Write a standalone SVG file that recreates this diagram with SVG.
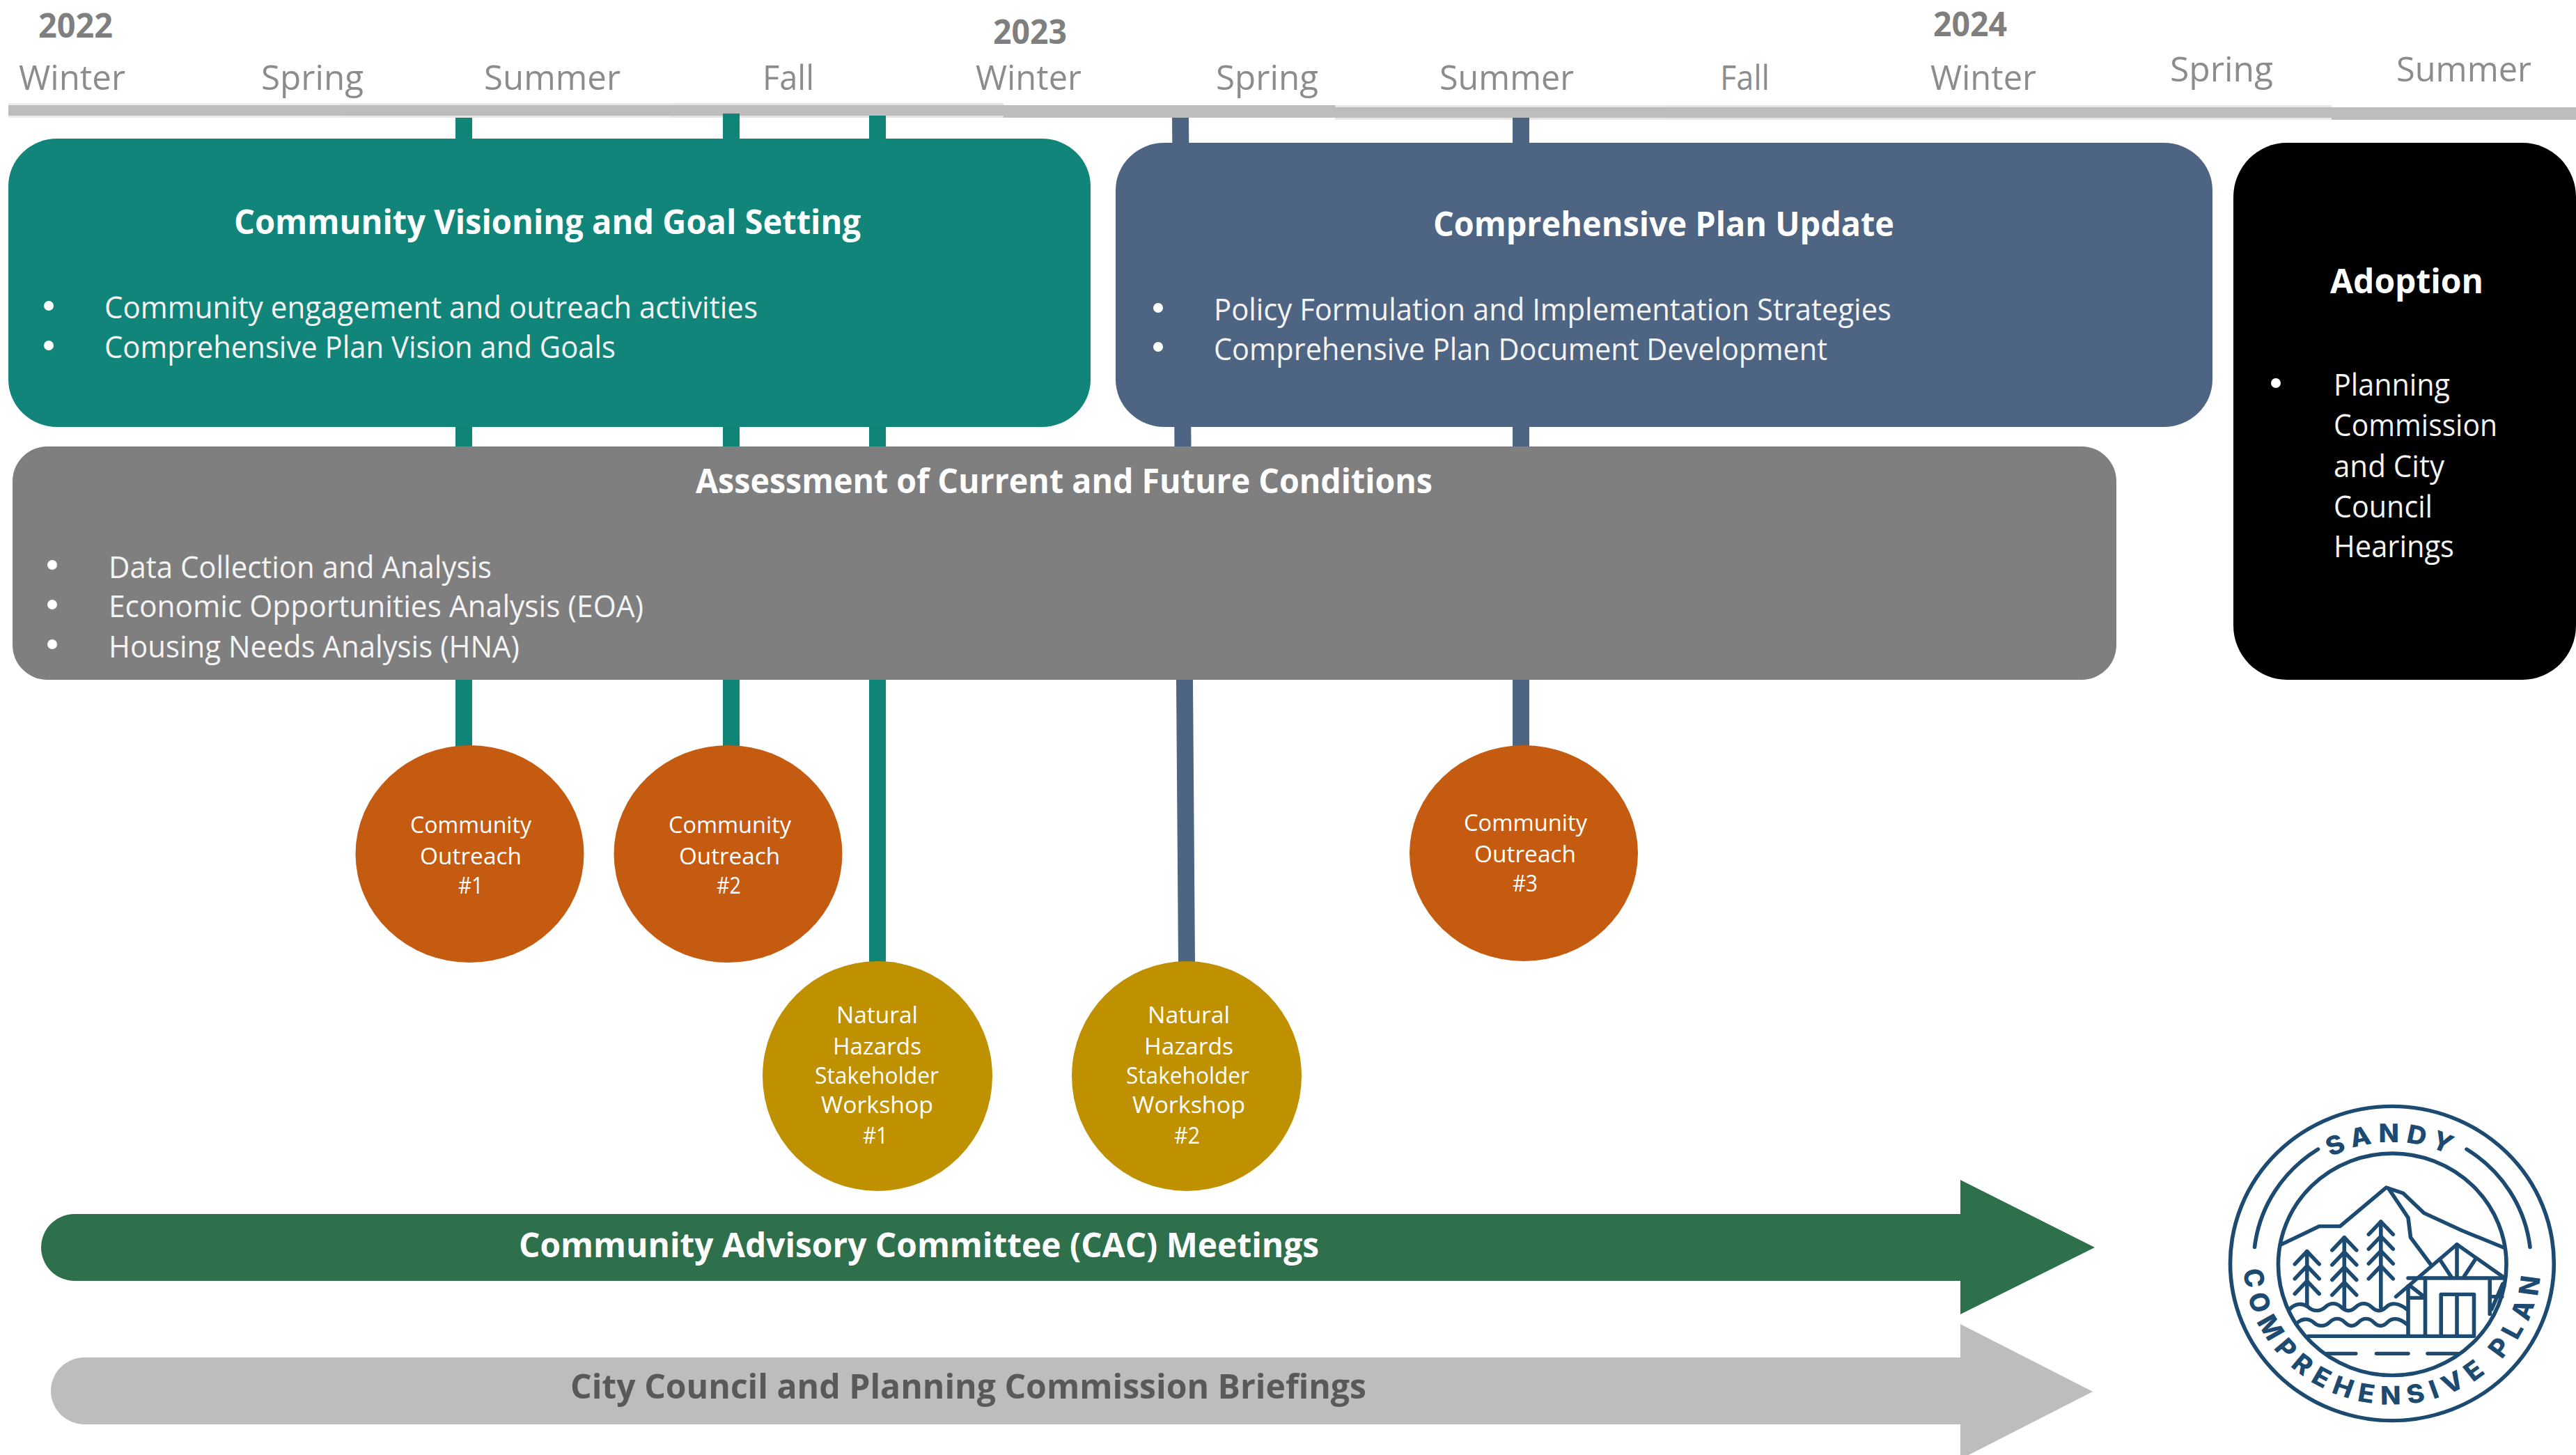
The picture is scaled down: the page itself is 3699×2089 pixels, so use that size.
<svg xmlns="http://www.w3.org/2000/svg" width="3699" height="2089" viewBox="0 0 3699 2089">
<style>
text{font-family:"Open Sans","Noto Sans","Liberation Sans",sans-serif;}
.yr{font-size:49px;font-weight:700;fill:#7f7f7f}
.mo{font-size:50px;font-weight:400;fill:#8c8c8c}
.ti{font-size:48px;font-weight:700;fill:#fff}
.bd{font-size:43px;font-weight:400;fill:#f4f4f4}
.ci{font-size:32px;font-weight:400;fill:#fff}
.gi{font-size:32px;font-weight:400;fill:#fff}
.bar{fill:#bdbdbd}
.teal{fill:#0f8578}
.slate{fill:#4d6483}
.orange{fill:#c55a11}
.gold{fill:#bf9000}
.lg{fill:none;stroke:#1c4a70;stroke-width:16;stroke-linecap:round;stroke-linejoin:round}
.lt{font-family:Inter,"Liberation Sans",sans-serif;font-size:110px;font-weight:800;fill:#1c4a70}
</style>
<defs>
<path id="chev" d="M-50 55L0 0L50 55"/>
<path id="wave" d="M0 0C20 -23 50 -28 75 -8C95 12 125 12 145 -8C165 -28 190 -28 210 -8C230 12 250 12 270 -8C290 -28 315 -28 335 -8C355 12 375 12 395 -8C415 -28 445 -28 480 2"/>
<path id="arcTop" d="M290 795A525 525 0 0 1 1340 795"/>
<path id="arcBot" d="M205 790A610 610 0 0 0 1425 790"/>
</defs>
<rect width="3699" height="2089" fill="#fff"/>

<g id="timeline-bar">
<rect x="12" y="148" width="477" height="21" fill="#ebebeb"/><rect x="12" y="151" width="477" height="15" class="bar"/>
<rect x="489" y="148" width="477" height="21" fill="#e6e6e6"/><rect x="489" y="151" width="477" height="15" class="bar"/>
<rect x="966" y="148" width="475" height="21" fill="#e2e2e2"/><rect x="966" y="151" width="475" height="15" class="bar"/>
<rect x="1441" y="151" width="476" height="18" class="bar"/>
<rect x="1917" y="151" width="477" height="21" fill="#e6e6e6"/><rect x="1917" y="154" width="477" height="15" class="bar"/>
<rect x="2394" y="151" width="477" height="21" fill="#e4e4e4"/><rect x="2394" y="154" width="477" height="15" class="bar"/>
<rect x="2871" y="151" width="477" height="21" fill="#e8e8e8"/><rect x="2871" y="154" width="477" height="15" class="bar"/>
<rect x="3348" y="154" width="351" height="18" class="bar"/>
</g>

<g id="timeline-labels">
<text class="yr" x="55" y="54" textLength="107" lengthAdjust="spacingAndGlyphs">2022</text>
<text class="yr" x="1426" y="63" textLength="106" lengthAdjust="spacingAndGlyphs">2023</text>
<text class="yr" x="2776" y="52" textLength="106" lengthAdjust="spacingAndGlyphs">2024</text>
<text class="mo" x="27" y="129" textLength="153" lengthAdjust="spacingAndGlyphs">Winter</text>
<text class="mo" x="375" y="129" textLength="147" lengthAdjust="spacingAndGlyphs">Spring</text>
<text class="mo" x="695" y="129" textLength="196" lengthAdjust="spacingAndGlyphs">Summer</text>
<text class="mo" x="1095" y="129" textLength="74" lengthAdjust="spacingAndGlyphs">Fall</text>
<text class="mo" x="1401" y="129" textLength="152" lengthAdjust="spacingAndGlyphs">Winter</text>
<text class="mo" x="1746" y="129" textLength="147" lengthAdjust="spacingAndGlyphs">Spring</text>
<text class="mo" x="2067" y="129" textLength="193" lengthAdjust="spacingAndGlyphs">Summer</text>
<text class="mo" x="2470" y="129" textLength="71" lengthAdjust="spacingAndGlyphs">Fall</text>
<text class="mo" x="2772" y="129" textLength="152" lengthAdjust="spacingAndGlyphs">Winter</text>
<text class="mo" x="3116" y="117" textLength="148" lengthAdjust="spacingAndGlyphs">Spring</text>
<text class="mo" x="3441" y="117" textLength="194" lengthAdjust="spacingAndGlyphs">Summer</text>
</g>

<g id="connectors">
<rect class="teal" x="654" y="169" width="24" height="905"/>
<rect class="teal" x="1038" y="163" width="24" height="911"/>
<rect class="teal" x="1248" y="166" width="24" height="1218"/>
<path class="slate" d="M1683 169H1707L1716 1384H1692Z"/>
<rect class="slate" x="2172" y="169" width="24" height="905"/>
</g>

<g id="node-visioning">
<rect x="12" y="199" width="1554" height="414" rx="70" ry="68" fill="#12857a"/>
<text class="ti" x="336" y="336" textLength="900" lengthAdjust="spacingAndGlyphs">Community Visioning and Goal Setting</text>
<circle cx="70" cy="439" r="7" fill="#fff"/><circle cx="70" cy="496" r="7" fill="#fff"/>
<text class="bd" x="150" y="457" textLength="938" lengthAdjust="spacingAndGlyphs">Community engagement and outreach activities</text>
<text class="bd" x="150" y="514" textLength="734" lengthAdjust="spacingAndGlyphs">Comprehensive Plan Vision and Goals</text>
</g>

<g id="node-plan-update">
<rect x="1602" y="205" width="1575" height="408" rx="70" ry="68" fill="#4d6483"/>
<text class="ti" x="2058" y="339" textLength="662" lengthAdjust="spacingAndGlyphs">Comprehensive Plan Update</text>
<circle cx="1663" cy="442" r="7" fill="#fff"/><circle cx="1663" cy="498" r="7" fill="#fff"/>
<text class="bd" x="1743" y="460" textLength="973" lengthAdjust="spacingAndGlyphs">Policy Formulation and Implementation Strategies</text>
<text class="bd" x="1743" y="517" textLength="881" lengthAdjust="spacingAndGlyphs">Comprehensive Plan Document Development</text>
</g>

<g id="node-assessment">
<rect x="18" y="641" width="3021" height="335" rx="50" ry="50" fill="#7f7f7f"/>
<text class="ti" x="999" y="708" textLength="1058" lengthAdjust="spacingAndGlyphs">Assessment of Current and Future Conditions</text>
<circle cx="75" cy="811" r="7" fill="#fff"/><circle cx="75" cy="868" r="7" fill="#fff"/><circle cx="75" cy="925" r="7" fill="#fff"/>
<text class="bd" x="156" y="830" textLength="550" lengthAdjust="spacingAndGlyphs">Data Collection and Analysis</text>
<text class="bd" x="156" y="886" textLength="768" lengthAdjust="spacingAndGlyphs">Economic Opportunities Analysis (EOA)</text>
<text class="bd" x="156" y="944" textLength="590" lengthAdjust="spacingAndGlyphs">Housing Needs Analysis (HNA)</text>
</g>

<g id="node-adoption">
<rect x="3207" y="205" width="492" height="771" rx="77" ry="78" fill="#000"/>
<text class="ti" x="3346" y="421" textLength="220" lengthAdjust="spacingAndGlyphs">Adoption</text>
<circle cx="3268" cy="550" r="7" fill="#fff"/>
<text class="bd" x="3351" y="568" textLength="167" lengthAdjust="spacingAndGlyphs">Planning</text>
<text class="bd" x="3351" y="626" textLength="235" lengthAdjust="spacingAndGlyphs">Commission</text>
<text class="bd" x="3351" y="685" textLength="159" lengthAdjust="spacingAndGlyphs">and City</text>
<text class="bd" x="3351" y="743" textLength="142" lengthAdjust="spacingAndGlyphs">Council</text>
<text class="bd" x="3351" y="800" textLength="173" lengthAdjust="spacingAndGlyphs">Hearings</text>
</g>

<g id="node-outreach-1">
<ellipse class="orange" cx="674.5" cy="1226" rx="164" ry="156"/>
<text class="ci" x="589" y="1196" textLength="174" lengthAdjust="spacingAndGlyphs">Community</text>
<text class="ci" x="603" y="1241" textLength="146" lengthAdjust="spacingAndGlyphs">Outreach</text>
<text class="ci" x="658" y="1283" textLength="36" lengthAdjust="spacingAndGlyphs">#1</text>
</g>
<g id="node-outreach-2">
<ellipse class="orange" cx="1045.5" cy="1226" rx="164" ry="156"/>
<text class="ci" x="960" y="1196" textLength="176" lengthAdjust="spacingAndGlyphs">Community</text>
<text class="ci" x="975" y="1241" textLength="145" lengthAdjust="spacingAndGlyphs">Outreach</text>
<text class="ci" x="1029" y="1283" textLength="35" lengthAdjust="spacingAndGlyphs">#2</text>
</g>
<g id="node-outreach-3">
<ellipse class="orange" cx="2188" cy="1225" rx="164" ry="155"/>
<text class="ci" x="2102" y="1193" textLength="177" lengthAdjust="spacingAndGlyphs">Community</text>
<text class="ci" x="2117" y="1238" textLength="146" lengthAdjust="spacingAndGlyphs">Outreach</text>
<text class="ci" x="2172" y="1280" textLength="36" lengthAdjust="spacingAndGlyphs">#3</text>
</g>
<g id="node-workshop-1">
<ellipse class="gold" cx="1260" cy="1545" rx="165" ry="165"/>
<text class="gi" x="1201" y="1469" textLength="117" lengthAdjust="spacingAndGlyphs">Natural</text>
<text class="gi" x="1196" y="1514" textLength="127" lengthAdjust="spacingAndGlyphs">Hazards</text>
<text class="gi" x="1170" y="1556" textLength="178" lengthAdjust="spacingAndGlyphs">Stakeholder</text>
<text class="gi" x="1179" y="1598" textLength="161" lengthAdjust="spacingAndGlyphs">Workshop</text>
<text class="gi" x="1239" y="1642" textLength="36" lengthAdjust="spacingAndGlyphs">#1</text>
</g>
<g id="node-workshop-2">
<ellipse class="gold" cx="1704" cy="1545" rx="165" ry="165"/>
<text class="gi" x="1648" y="1469" textLength="118" lengthAdjust="spacingAndGlyphs">Natural</text>
<text class="gi" x="1643" y="1514" textLength="128" lengthAdjust="spacingAndGlyphs">Hazards</text>
<text class="gi" x="1617" y="1556" textLength="177" lengthAdjust="spacingAndGlyphs">Stakeholder</text>
<text class="gi" x="1626" y="1598" textLength="162" lengthAdjust="spacingAndGlyphs">Workshop</text>
<text class="gi" x="1686" y="1642" textLength="37" lengthAdjust="spacingAndGlyphs">#2</text>
</g>

<g id="node-cac-arrow">
<path d="M107 1743H2815V1694L3008 1791L2815 1887V1839H107A48 48 0 0 1 107 1743Z" fill="#2f704c"/>
<text class="ti" x="745" y="1805" textLength="1149" lengthAdjust="spacingAndGlyphs">Community Advisory Committee (CAC) Meetings</text>
</g>
<g id="node-briefings-arrow">
<path d="M121 1949H2815V1901L3005 1998L2815 2095V2045H121A48 48 0 0 1 121 1949Z" fill="#bdbdbd"/>
<text class="ti" style="fill:#595959" x="819" y="2008" textLength="1143" lengthAdjust="spacingAndGlyphs">City Council and Planning Commission Briefings</text>
</g>

<g id="logo" transform="translate(3150 1550) scale(0.35 0.3333)">
<ellipse class="lg" cx="814" cy="792" rx="664" ry="677"/>
<ellipse class="lg" cx="815" cy="796" rx="468" ry="478"/>
<path class="lg" d="M250 722A565 578 0 0 1 510 300M1120 300A565 578 0 0 1 1380 722"/>
<path class="lg" d="M360 710L515 632H600L790 465L860 490L945 575L1100 650L1275 725"/>
<path class="lg" d="M800 470L880 595L890 680L975 800"/>
<path class="lg" d="M830 935L1080 710L1270 850"/>
<path class="lg" d="M1080 710V855M1010 775L1060 855M1155 775L1105 855M880 855H1275"/>
<path class="lg" d="M880 890V1100M880 940H950M950 855V1100M890 890L945 935M1215 860V1010M1215 935H1265M1222 990L1268 880"/>
<path class="lg" d="M1015 1100V925H1150V1100M1080 925V1100"/>
<path class="lg" d="M470 1105H1150"/>
<path class="lg" d="M545 1180H665M750 1180H880M960 1180H1085"/>
<use href="#wave" class="lg" transform="translate(395 988)"/>
<use href="#wave" class="lg" transform="translate(420 1053) scale(0.95 1)"/>
<path class="lg" d="M465 740V975M618 680V985M768 612V980"/>
<use href="#chev" class="lg" transform="translate(465 740)"/><use href="#chev" class="lg" transform="translate(465 803)"/><use href="#chev" class="lg" transform="translate(465 868)"/>
<use href="#chev" class="lg" transform="translate(618 680)"/><use href="#chev" class="lg" transform="translate(618 743)"/><use href="#chev" class="lg" transform="translate(618 808)"/><use href="#chev" class="lg" transform="translate(618 873)"/>
<use href="#chev" class="lg" transform="translate(768 612)"/><use href="#chev" class="lg" transform="translate(768 675)"/><use href="#chev" class="lg" transform="translate(768 738)"/><use href="#chev" class="lg" transform="translate(768 803)"/>
<text class="lt" text-anchor="middle" letter-spacing="26"><textPath href="#arcTop" startOffset="50%">SANDY</textPath></text>
<text class="lt" text-anchor="middle" letter-spacing="31"><textPath href="#arcBot" startOffset="50%">COMPREHENSIVE PLAN</textPath></text>
</g>
</svg>
